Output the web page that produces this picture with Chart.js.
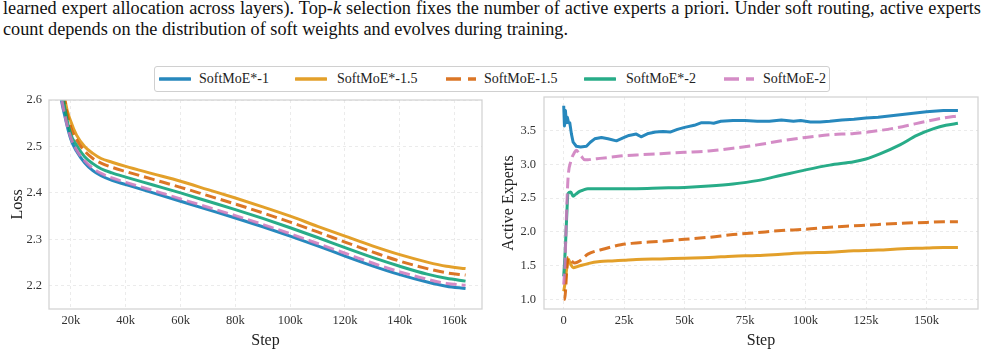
<!DOCTYPE html>
<html><head><meta charset="utf-8">
<script src="https://cdn.jsdelivr.net/npm/chart.js@4.4.0/dist/chart.umd.min.js"></script>
<style>
body{margin:0;width:985px;height:364px;background:#fff;overflow:hidden;position:relative;font-family:"Liberation Serif","DejaVu Serif",serif;}
.cap{position:absolute;left:3px;font-family:"Liberation Serif","DejaVu Serif",serif;font-size:18px;line-height:21px;color:#111;white-space:nowrap;transform-origin:0 0;}
#cap1{top:-2px;text-align:justify;text-align-last:justify;}
#cap2{top:19px;}
#legend{position:absolute;left:154px;top:66px;width:676px;height:26px;border:1px solid #d0d0d0;border-radius:3px;box-sizing:border-box;background:#fff;}
.sw{position:absolute;top:5px;}
.lt{position:absolute;top:3px;font-family:"Liberation Serif","DejaVu Serif",serif;font-size:14px;line-height:18px;color:#222;white-space:nowrap;}
.cw{position:absolute;}
</style></head>
<body>
<div class="cap" id="cap1">learned expert allocation across layers). Top-<i>k</i> selection fixes the number of active experts a priori. Under soft routing, active experts</div>
<div class="cap" id="cap2"><span id="cap2s">count depends on the distribution of soft weights and evolves during training.</span></div>
<div id="legend"></div>
<div class="cw" style="left:0;top:90px;width:490px;height:274px;"><canvas id="c1" width="490" height="274"></canvas></div>
<div class="cw" style="left:490px;top:87px;width:495px;height:277px;"><canvas id="c2" width="495" height="277"></canvas></div>
<script>
// ---------- data ----------
const seriesNames = ['SoftMoE*-1','SoftMoE*-1.5','SoftMoE-1.5','SoftMoE*-2','SoftMoE-2'];
const seriesColors = ['rgba(1,115,178,0.85)','rgba(222,143,5,0.85)','rgba(213,94,0,0.85)','rgba(2,158,115,0.85)','rgba(204,120,188,0.85)'];
const seriesDashed = [false,false,true,false,true];

// Loss panel (steps in thousands)
const lossSteps = [14,16,18,20,22,25,28,31,35,40,50,60,70,80,90,100,110,120,130,140,150,157,164];
const lossStar1  = [2.75,2.62,2.56,2.515,2.49,2.465,2.448,2.437,2.427,2.418,2.40,2.382,2.364,2.346,2.327,2.307,2.286,2.264,2.243,2.224,2.208,2.199,2.194];
const lossStar15 = [2.85,2.70,2.595,2.553,2.525,2.50,2.485,2.474,2.466,2.457,2.441,2.425,2.407,2.389,2.370,2.350,2.328,2.307,2.286,2.267,2.251,2.242,2.237];
const lossSoft15 = [2.82,2.68,2.59,2.54,2.515,2.49,2.474,2.464,2.455,2.446,2.429,2.412,2.394,2.376,2.357,2.337,2.316,2.294,2.273,2.253,2.237,2.228,2.223];
const lossStar2  = [2.80,2.66,2.575,2.525,2.503,2.478,2.463,2.452,2.443,2.434,2.417,2.400,2.382,2.364,2.345,2.325,2.304,2.282,2.261,2.242,2.225,2.216,2.210];
const lossSoft2  = [2.77,2.63,2.562,2.518,2.493,2.469,2.453,2.442,2.432,2.4225,2.405,2.387,2.369,2.351,2.332,2.312,2.291,2.270,2.249,2.230,2.214,2.205,2.201];

// Active experts panel (steps in thousands)
const actStepsStar1 = [0,0.3,0.7,1.1,1.5,2,2.5,3.2,3.9,5.2,7,9.4,11,12.8,15.6,18.3,21.8,25,27,30,32,35,38,41,44,47,50,54,57,60,62,65,70,75,80,85,90,95,98,102,106,110,115,120,125,130,140,150,157,163];
const actStar1 = [3.87,3.57,3.80,3.62,3.70,3.62,3.62,3.45,3.33,3.27,3.26,3.27,3.33,3.38,3.40,3.38,3.35,3.40,3.43,3.45,3.41,3.46,3.48,3.49,3.48,3.52,3.55,3.58,3.62,3.62,3.61,3.64,3.65,3.65,3.64,3.64,3.66,3.64,3.65,3.63,3.63,3.64,3.66,3.67,3.69,3.70,3.74,3.78,3.80,3.80];
const actStepsStar15 = [0,0.6,1.2,1.8,2.9,3.9,6,10,15,20,25,30,40,50,60,70,80,90,100,110,120,130,140,150,157,163];
const actStar15 = [1.12,1.25,1.45,1.60,1.52,1.47,1.49,1.53,1.56,1.57,1.58,1.59,1.60,1.61,1.62,1.64,1.65,1.67,1.69,1.70,1.72,1.73,1.75,1.76,1.77,1.77];
const actStepsSoft15 = [0,0.4,0.8,1.2,1.8,2.9,4.5,6.6,10,17,23.6,28,40,50,60,70,80,90,100,110,120,130,140,150,157,163];
const actSoft15 = [1.0,1.0,1.15,1.4,1.62,1.58,1.54,1.57,1.67,1.75,1.81,1.83,1.86,1.89,1.92,1.96,1.99,2.02,2.04,2.07,2.09,2.11,2.13,2.14,2.15,2.15];
const actStepsStar2 = [0,0.6,1.2,1.8,2.9,3.9,5,6.6,8,10,12,15,20,25,30,40,50,60,70,80,90,100,110,120,125,131,139,146,153,158,163];
const actStar2 = [1.34,1.7,2.2,2.57,2.59,2.53,2.56,2.60,2.62,2.64,2.64,2.64,2.64,2.64,2.64,2.65,2.66,2.68,2.71,2.76,2.84,2.92,2.99,3.04,3.08,3.16,3.29,3.43,3.53,3.58,3.61];
const actStepsSoft2 = [0,0.5,1.1,1.8,2.9,4.5,5.2,6.2,7.3,8.7,10,12,15,20,25,30,40,50,60,70,80,90,100,110,120,130,140,150,157,163];
const actSoft2 = [1.22,1.5,2.2,2.8,3.04,3.18,3.21,3.17,3.12,3.07,3.07,3.08,3.09,3.11,3.13,3.14,3.16,3.18,3.20,3.24,3.29,3.35,3.40,3.44,3.46,3.50,3.56,3.64,3.69,3.72];

// ticks
const lossXTicks = [20,40,60,80,100,120,140,160];
const lossXLabels = ['20k','40k','60k','80k','100k','120k','140k','160k'];
const lossYTicks = [2.2,2.3,2.4,2.5,2.6];
const lossYLabels = ['2.2','2.3','2.4','2.5','2.6'];
const actXTicks = [0,25,50,75,100,125,150];
const actXLabels = ['0','25k','50k','75k','100k','125k','150k'];
const actYTicks = [1.0,1.5,2.0,2.5,3.0,3.5];
const actYLabels = ['1.0','1.5','2.0','2.5','3.0','3.5'];

// ---------- caption fit ----------
(function(){
  const s = document.getElementById('cap2s');
  const w = s.getBoundingClientRect().width;
  const k = 565 / w;
  const c1 = document.getElementById('cap1'), c2 = document.getElementById('cap2');
  c1.style.width = (978 / k) + 'px';
  c1.style.transform = 'scaleX(' + k + ')';
  c2.style.transform = 'scaleX(' + k + ')';
})();

// ---------- legend ----------
(function(){
  const lg = document.getElementById('legend');
  const swX = [4, 140, 290, 429, 568];
  const txX = [44, 182, 329, 471, 608];
  seriesNames.forEach((n,i)=>{
    const sv = document.createElementNS('http://www.w3.org/2000/svg','svg');
    sv.setAttribute('width','32'); sv.setAttribute('height','14');
    sv.setAttribute('class','sw'); sv.style.left = swX[i]+'px';
    const ln = document.createElementNS('http://www.w3.org/2000/svg','line');
    ln.setAttribute('x1','1'); ln.setAttribute('x2','31'); ln.setAttribute('y1','7'); ln.setAttribute('y2','7');
    ln.setAttribute('stroke', seriesColors[i]); ln.setAttribute('stroke-width','3.5');
    if (seriesDashed[i]) ln.setAttribute('stroke-dasharray','15 7');
    else ln.setAttribute('stroke-linecap','round');
    sv.appendChild(ln); lg.appendChild(sv);
    const t = document.createElement('span'); t.className='lt'; t.style.left = txX[i]+'px'; t.textContent = n;
    lg.appendChild(t);
  });
})();

// ---------- charts ----------
const F = '"Liberation Serif","DejaVu Serif",serif';
const zip = (xs, ys) => xs.map((x,i)=>({x:x, y:ys[i]}));
const framePlugin = {id:'frame', afterDatasetsDraw(chart){
  const a = chart.chartArea, c = chart.ctx;
  c.save(); c.strokeStyle = '#d4d4d4'; c.lineWidth = 1.3;
  c.strokeRect(a.left, a.top, a.right-a.left, a.bottom-a.top); c.restore();
}};

function ds(i, xs, ys, smooth){
  return {
    label: seriesNames[i], data: zip(xs, ys),
    borderColor: seriesColors[i], backgroundColor: seriesColors[i],
    borderWidth: 3, pointRadius: 0, fill: false, clip: 0,
    borderDash: seriesDashed[i] ? [11,5] : [],
    borderCapStyle: 'butt', borderJoinStyle: 'round',
    cubicInterpolationMode: smooth ? 'monotone' : 'default',
    tension: smooth ? 0.4 : 0,
    order: 4 - i
  };
}

function makeChart(id, datasets, o){
  return new Chart(document.getElementById(id), {
    type: 'line',
    data: { datasets: datasets },
    options: {
      responsive: false, animation: false, devicePixelRatio: 1,
      layout: { padding: { top: o.pt, right: o.pr, bottom: 0, left: 0 } },
      plugins: { legend: { display: false }, tooltip: { enabled: false } },
      scales: {
        x: {
          type: 'linear', min: o.xmin, max: o.xmax, bounds: 'data',
          afterBuildTicks: s => { s.ticks = o.xt.map(v => ({ value: v })); },
          afterFit: s => { s.height = 55; s.paddingLeft = 0; s.paddingRight = 0; },
          ticks: { callback: (v, i) => o.xl[i], font: { family: F, size: 12.5 }, color: '#333', padding: 4, maxRotation: 0, autoSkip: false },
          grid: { color: 'rgba(0,0,0,0.10)', lineWidth: 0.8, drawTicks: false },
          border: { display: false, dash: [3, 3] },
          title: { display: true, text: 'Step', font: { family: F, size: 16 }, color: '#222', padding: { top: 0, bottom: 14 } }
        },
        y: {
          type: 'linear', min: o.ymin, max: o.ymax, bounds: 'data',
          afterBuildTicks: s => { s.ticks = o.yt.map(v => ({ value: v })); },
          afterFit: s => { s.width = o.yw; s.paddingTop = 0; s.paddingBottom = 0; },
          ticks: { callback: (v, i) => o.yl[i], font: { family: F, size: 12.5 }, color: '#333', padding: o.yp, autoSkip: false },
          grid: { color: 'rgba(0,0,0,0.10)', lineWidth: 0.8, drawTicks: false },
          border: { display: false, dash: [3, 3] },
          title: { display: true, text: o.ytitle, font: { family: F, size: 16 }, color: '#222', padding: { top: o.ytp, bottom: 0 } }
        }
      }
    },
    plugins: [framePlugin]
  });
}

makeChart('c1', [
  ds(0, lossSteps, lossStar1, true),
  ds(1, lossSteps, lossStar15, true),
  ds(2, lossSteps, lossSoft15, true),
  ds(3, lossSteps, lossStar2, true),
  ds(4, lossSteps, lossSoft2, true)
], { xmin: 12, xmax: 170, ymin: 2.15, ymax: 2.6, xt: lossXTicks, xl: lossXLabels, yt: lossYTicks, yl: lossYLabels,
     yw: 49, yp: 7, ytitle: 'Loss', ytp: 8, pr: 8, pt: 10 });

makeChart('c2', [
  ds(0, actStepsStar1, actStar1, false),
  ds(1, actStepsStar15, actStar15, true),
  ds(2, actStepsSoft15, actSoft15, true),
  ds(3, actStepsStar2, actStar2, true),
  ds(4, actStepsSoft2, actSoft2, true)
], { xmin: -8.15, xmax: 171.3, ymin: 0.857, ymax: 4.0, xt: actXTicks, xl: actXLabels, yt: actYTicks, yl: actYLabels,
     yw: 54, yp: 8, ytitle: 'Active Experts', ytp: 9, pr: 7, pt: 10 });
</script>
</body></html>
